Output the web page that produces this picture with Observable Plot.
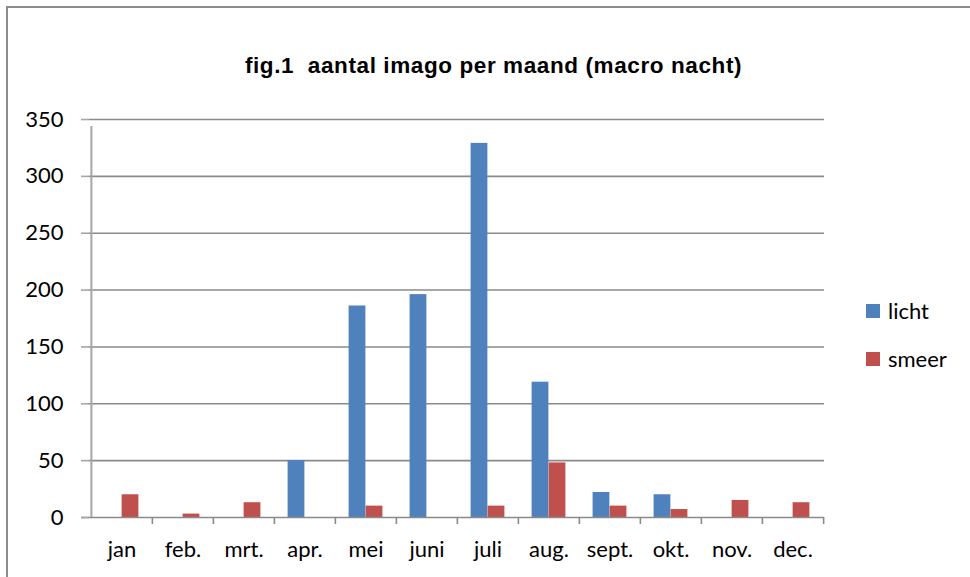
<!DOCTYPE html>
<html>
<head>
<meta charset="utf-8">
<script src="https://cdn.jsdelivr.net/npm/d3@7"></script>
<script src="https://cdn.jsdelivr.net/npm/@observablehq/plot@0.6"></script>
<style>
  html, body { margin: 0; padding: 0; background: #fff; overflow: hidden; }
  #wrap { position: relative; width: 970px; height: 577px; overflow: hidden; }
  #frame { position: absolute; left: 6px; top: 6px; width: 1000px; height: 620px; border-left: 2px solid #8c8c8c; border-top: 2px solid #8c8c8c; box-sizing: border-box; pointer-events: none; }
  #title { position: absolute; left: 0; width: 987px; top: 53px; text-align: center; font-family: "Liberation Sans", Arial, sans-serif; font-weight: bold; font-size: 22.5px; letter-spacing: 0.6px; color: #000; white-space: pre; }
  #chart { position: absolute; left: 0; top: 0; }
  .leg { position: absolute; left: 866px; font-family: Lato, sans-serif; font-size: 22px; color: #000; display: flex; align-items: center; }
  .leg span.sw { display: inline-block; width: 14px; height: 14px; margin-right: 8px; }
</style>
</head>
<body>
<div id="wrap">
  <div id="chart"></div>
  <div id="title"></div>
  <div id="legend"></div>
  <div id="frame"></div>
</div>
<script>
const titleText = "fig.1  aantal imago per maand (macro nacht)";
const months = ["jan", "feb.", "mrt.", "apr.", "mei", "juni", "juli", "aug.", "sept.", "okt.", "nov.", "dec."];
const licht = [0, 0, 0, 50, 186, 196, 329, 119, 22, 20, 0, 0];
const smeer = [20, 3, 13, 0, 10, 0, 10, 48, 10, 7, 15, 13];
const seriesNames = ["licht", "smeer"];
const seriesColors = ["#4F81BD", "#C0504D"];
const yTicks = [0, 50, 100, 150, 200, 250, 300, 350];

const W = 970, H = 577;
const mL = 89, mR = 146, mT = 119, mB = 60;
const band = (W - mL - mR) / months.length;
const barW = band * 0.278;
const groupStart = (band - 2 * barW) / 2;

const lichtData = months.map((m, i) => ({month: m, value: licht[i]}));
const smeerData = months.map((m, i) => ({month: m, value: smeer[i]}));

document.getElementById("title").textContent = titleText;

const plot = Plot.plot({
  width: W,
  height: H,
  marginLeft: mL,
  marginRight: mR,
  marginTop: mT,
  marginBottom: mB,
  style: {fontFamily: "Lato, sans-serif", fontSize: "22px", color: "#000", background: "transparent", overflow: "visible"},
  x: {type: "band", domain: months, padding: 0, label: null},
  y: {domain: [0, 350], label: null},
  marks: [
    Plot.gridY(yTicks.filter(d => d > 0), {stroke: "#8a8a8a", strokeOpacity: 1, strokeWidth: 1.6}),
    Plot.barY(lichtData.filter(d => d.value > 0), {x: "month", y: "value", fill: seriesColors[0], insetLeft: groupStart, insetRight: band - groupStart - barW}),
    Plot.barY(smeerData.filter(d => d.value > 0), {x: "month", y: "value", fill: seriesColors[1], insetLeft: groupStart + barW, insetRight: groupStart}),
    // x axis baseline
    Plot.ruleY([0], {stroke: "#8a8a8a", strokeWidth: 1.6, insetLeft: -8}),
    // y axis line
    Plot.ruleX([months[0]], {dx: -band / 2, y1: 0, y2: 350, stroke: "#a6a6a6", strokeWidth: 2, insetBottom: -7}),
    // category boundary ticks
    Plot.ruleX(months.slice(1), {dx: -band / 2, y1: 0, y2: 0, stroke: "#8a8a8a", strokeWidth: 1.6, insetBottom: -7}),
    Plot.ruleX([months[months.length - 1]], {dx: band / 2, y1: 0, y2: 0, stroke: "#8a8a8a", strokeWidth: 1.6, insetBottom: -7}),
    // y tick marks and labels
    Plot.axisY({ticks: yTicks, tickSize: 8, tickPadding: 18, stroke: "#a6a6a6", strokeWidth: 1.6, fontSize: 22, fill: "#000"}),
    Plot.axisX({tickSize: 0, tickPadding: 24, fontSize: 22, fill: "#000"})
  ]
});
document.getElementById("chart").appendChild(plot);

const legend = document.getElementById("legend");
const legTops = [297, 345];
seriesNames.forEach((name, i) => {
  const row = document.createElement("div");
  row.className = "leg";
  row.style.top = legTops[i] + "px";
  const sw = document.createElement("span");
  sw.className = "sw";
  sw.style.background = seriesColors[i];
  row.appendChild(sw);
  row.appendChild(document.createTextNode(name));
  legend.appendChild(row);
});
</script>
</body>
</html>
